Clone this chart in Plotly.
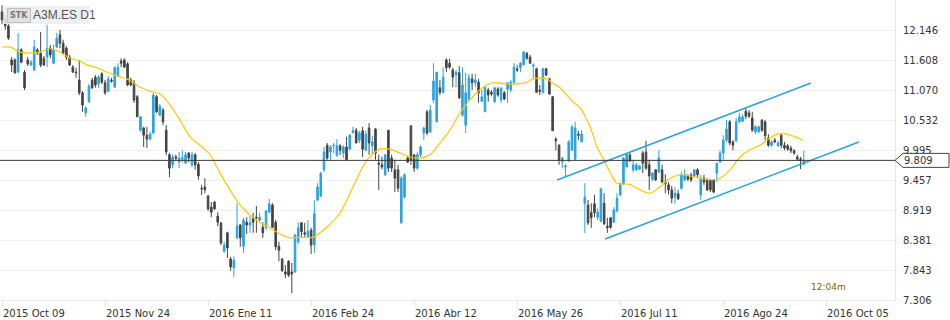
import plotly.graph_objects as go

# ---------------- data ----------------
tick_idx = [0, 32, 64, 96, 128, 160, 192, 224, 256]
tick_text = ["2015 Oct 09", "2015 Nov 24", "2016 Ene 11", "2016 Feb 24", "2016 Abr 12",
             "2016 May 26", "2016 Jul 11", "2016 Ago 24", "2016 Oct 05"]
price_ticks = [7.306, 7.843, 8.381, 8.919, 9.457, 9.995, 10.532, 11.070, 11.608, 12.146]

opens = [
    12.47, 12.33, 12.22, 11.61, 11.61, 11.39, 11.79, 11.39, 11.61, 11.52,
    11.43, 11.79, 11.73, 11.64, 11.66, 11.82, 11.55, 11.84, 12.06, 11.91,
    11.82, 11.66, 11.48, 11.39, 11.25, 11.02, 10.66, 10.86, 11.25, 11.30,
    11.18, 11.36, 11.20, 11.05, 11.25, 11.12, 11.32, 11.59, 11.61, 11.54,
    11.25, 11.20, 10.95, 10.35, 10.39, 10.26, 10.19, 10.30, 10.95, 10.62,
    10.71, 10.35, 9.91, 9.73, 9.87, 9.78, 9.83, 9.76, 9.94, 9.73,
    9.91, 9.74, 9.31, 9.33, 9.17, 8.97, 9.06, 8.81, 8.69, 8.18,
    8.51, 8.04, 7.88, 8.42, 8.65, 8.27, 8.70, 8.65, 8.78, 8.79,
    8.74, 8.61, 8.61, 8.88, 9.01, 8.70, 8.27, 8.04, 7.81, 8.00,
    7.81, 7.81, 8.35, 8.69, 8.51, 8.45, 8.56, 8.29, 9.10, 9.17,
    9.64, 10.08, 9.96, 10.07, 9.90, 10.07, 9.94, 10.05, 10.01, 10.30,
    10.35, 10.17, 10.34, 9.99, 10.39, 10.07, 10.37, 9.76, 9.73, 9.55,
    10.35, 9.85, 9.64, 9.64, 8.69, 9.15, 9.85, 10.43, 9.91, 9.67,
    9.91, 10.30, 10.68, 10.32, 10.89, 10.50, 11.11, 11.02, 11.61, 11.55,
    11.43, 11.34, 11.38, 10.62, 10.44, 10.91, 11.27, 11.20, 11.21, 10.87,
    10.68, 11.07, 11.03, 10.86, 11.09, 10.89, 11.02, 11.09, 11.07, 11.20,
    11.45, 11.47, 11.52, 11.73, 11.66, 11.50, 11.45, 11.07, 11.02, 11.45,
    11.27, 10.95, 10.19, 10.08, 9.78, 9.69, 9.80, 9.99, 9.83, 10.28,
    10.14, 9.04, 9.01, 8.87, 9.03, 8.79, 8.72, 9.04, 8.63, 8.78,
    8.70, 8.90, 9.19, 9.39, 9.69, 9.91, 9.64, 9.64, 9.65, 9.94,
    9.96, 9.73, 9.47, 9.64, 9.60, 9.64, 9.42, 9.37, 9.28, 9.15,
    9.21, 9.31, 9.46, 9.53, 9.55, 9.53, 9.64, 9.19, 9.49, 9.46,
    9.46, 9.46, 9.58, 9.78, 9.94, 10.17, 10.50, 10.14, 10.16, 10.50,
    10.51, 10.69, 10.66, 10.57, 10.32, 10.32, 10.53, 10.50, 10.21, 10.08,
    10.17, 10.07, 10.26, 10.08, 10.07, 10.03, 9.98, 9.87, 9.83, 9.74,
]
highs = [
    12.59, 12.42, 12.25, 11.66, 11.64, 12.09, 11.82, 11.43, 11.66, 11.61,
    11.97, 11.82, 12.11, 11.68, 12.24, 11.88, 11.88, 12.09, 12.15, 11.97,
    11.86, 11.70, 11.52, 11.47, 11.61, 11.05, 10.78, 11.18, 11.29, 11.34,
    11.34, 11.39, 11.25, 11.32, 11.29, 11.50, 11.55, 11.64, 11.64, 11.57,
    11.29, 11.25, 10.98, 10.60, 10.41, 10.41, 10.32, 11.02, 10.98, 10.82,
    10.75, 10.44, 9.94, 9.92, 9.91, 9.96, 9.99, 9.96, 9.96, 9.96,
    9.94, 9.78, 9.37, 9.49, 9.19, 9.06, 9.08, 8.88, 8.70, 8.35,
    8.53, 8.08, 8.09, 9.04, 8.67, 8.78, 8.79, 8.81, 8.87, 8.99,
    8.87, 8.70, 8.92, 9.12, 9.04, 8.74, 8.35, 8.06, 7.93, 8.02,
    7.97, 8.49, 8.70, 8.70, 8.69, 8.74, 8.60, 9.10, 9.40, 9.60,
    10.05, 10.12, 10.08, 10.12, 10.19, 10.10, 10.08, 10.23, 10.28, 10.41,
    10.39, 10.34, 10.41, 10.34, 10.48, 10.25, 10.39, 9.91, 9.87, 9.92,
    10.35, 9.91, 9.82, 9.73, 9.53, 9.58, 9.89, 10.43, 9.91, 9.96,
    10.08, 10.41, 10.71, 10.80, 11.55, 11.39, 11.25, 11.48, 11.64, 11.63,
    11.47, 11.43, 11.50, 11.48, 11.38, 11.36, 11.36, 11.36, 11.27, 11.07,
    11.14, 11.11, 11.07, 11.12, 11.12, 11.11, 11.05, 11.21, 11.25, 11.55,
    11.52, 11.57, 11.77, 11.75, 11.70, 11.55, 11.47, 11.16, 11.47, 11.47,
    11.29, 10.96, 10.23, 10.10, 9.87, 9.74, 10.17, 10.44, 10.50, 10.34,
    10.35, 9.40, 9.10, 9.04, 9.19, 8.95, 9.30, 9.22, 8.78, 8.79,
    8.97, 9.22, 9.40, 9.87, 9.94, 9.94, 9.82, 9.76, 9.73, 9.98,
    10.16, 9.82, 9.60, 9.65, 9.99, 9.73, 9.56, 9.42, 9.35, 9.33,
    9.28, 9.60, 9.65, 9.56, 9.58, 9.65, 9.67, 9.55, 9.55, 9.49,
    9.47, 9.47, 9.76, 9.99, 10.26, 10.53, 10.53, 10.17, 10.57, 10.66,
    10.64, 10.75, 10.71, 10.68, 10.44, 10.43, 10.55, 10.53, 10.28, 10.17,
    10.21, 10.16, 10.30, 10.14, 10.10, 10.07, 10.01, 9.91, 9.87, 9.98,
]
lows = [
    12.25, 12.15, 11.97, 11.39, 11.36, 11.39, 11.55, 11.07, 11.50, 11.50,
    11.41, 11.70, 11.48, 11.50, 11.48, 11.64, 11.54, 11.82, 11.82, 11.70,
    11.61, 11.50, 11.38, 11.29, 10.98, 10.68, 10.59, 10.84, 11.09, 11.11,
    11.11, 11.18, 10.98, 11.03, 11.20, 11.11, 11.32, 11.48, 11.47, 11.14,
    11.14, 10.84, 10.59, 10.32, 10.05, 10.03, 10.17, 10.28, 10.66, 10.60,
    10.44, 9.90, 9.51, 9.67, 9.80, 9.67, 9.78, 9.74, 9.78, 9.69,
    9.64, 9.46, 9.19, 9.22, 8.90, 8.79, 8.92, 8.63, 8.29, 8.15,
    8.06, 7.83, 7.72, 8.40, 8.26, 8.15, 8.49, 8.51, 8.51, 8.51,
    8.72, 8.42, 8.56, 8.87, 8.60, 8.20, 8.00, 7.81, 7.70, 7.72,
    7.43, 7.79, 8.31, 8.44, 8.44, 8.42, 8.13, 8.15, 9.08, 9.15,
    9.60, 9.82, 9.82, 9.94, 9.87, 9.90, 9.85, 9.82, 9.99, 10.30,
    10.12, 10.12, 9.87, 9.98, 9.91, 9.91, 9.82, 9.28, 9.65, 9.53,
    9.60, 9.60, 9.24, 9.24, 8.67, 9.13, 9.76, 9.73, 9.60, 9.64,
    9.87, 10.17, 10.26, 10.30, 10.84, 10.50, 10.98, 11.02, 11.39, 11.45,
    11.12, 11.12, 10.91, 10.60, 10.30, 10.87, 11.07, 11.12, 10.84, 10.86,
    10.68, 10.86, 10.96, 10.84, 10.95, 10.84, 10.89, 10.84, 11.03, 11.20,
    11.39, 11.39, 11.52, 11.61, 11.54, 11.27, 11.02, 10.98, 11.02, 11.32,
    10.98, 10.34, 9.99, 9.73, 9.67, 9.51, 9.78, 9.99, 9.82, 10.17,
    10.14, 8.51, 8.65, 8.60, 8.79, 8.74, 8.70, 8.65, 8.51, 8.58,
    8.69, 8.88, 9.17, 9.37, 9.69, 9.78, 9.60, 9.62, 9.64, 9.58,
    9.64, 9.28, 9.44, 9.44, 9.58, 9.40, 9.22, 9.20, 9.04, 9.03,
    9.10, 9.28, 9.44, 9.44, 9.42, 9.51, 9.49, 9.10, 9.37, 9.26,
    9.24, 9.22, 9.42, 9.76, 9.82, 10.14, 10.08, 9.99, 10.14, 10.48,
    10.50, 10.55, 10.57, 10.32, 10.28, 10.30, 10.32, 10.17, 10.05, 10.05,
    10.12, 10.05, 10.03, 9.99, 9.98, 9.94, 9.91, 9.82, 9.65, 9.74,
]
closes = [
    12.33, 12.22, 12.00, 11.52, 11.38, 11.79, 11.57, 11.11, 11.54, 11.57,
    11.84, 11.73, 11.52, 11.52, 11.82, 11.70, 11.79, 12.00, 11.91, 11.73,
    11.66, 11.52, 11.39, 11.38, 11.02, 10.80, 10.75, 11.14, 11.11, 11.16,
    11.30, 11.21, 11.02, 11.27, 11.23, 11.47, 11.48, 11.55, 11.48, 11.16,
    11.16, 10.89, 10.59, 10.59, 10.26, 10.19, 10.28, 10.98, 10.68, 10.78,
    10.50, 9.96, 9.67, 9.87, 9.85, 9.85, 9.85, 9.91, 9.85, 9.91,
    9.73, 9.53, 9.30, 9.28, 8.94, 8.88, 8.94, 8.70, 8.33, 8.29,
    8.24, 7.90, 8.02, 8.63, 8.42, 8.74, 8.65, 8.69, 8.70, 8.78,
    8.79, 8.51, 8.90, 9.03, 8.61, 8.26, 8.20, 7.83, 7.77, 7.75,
    7.77, 8.47, 8.60, 8.53, 8.49, 8.54, 8.29, 8.85, 9.33, 9.58,
    9.96, 9.85, 10.05, 10.08, 10.07, 9.99, 10.05, 9.82, 10.26, 10.34,
    10.12, 10.30, 10.01, 10.28, 10.12, 10.14, 9.94, 9.74, 9.69, 9.91,
    9.67, 9.67, 9.49, 9.31, 9.49, 9.55, 9.78, 9.82, 9.67, 9.91,
    10.05, 10.39, 10.30, 10.71, 11.23, 11.39, 11.03, 11.30, 11.47, 11.48,
    11.30, 11.39, 10.93, 11.16, 11.02, 11.29, 11.20, 11.25, 11.02, 10.95,
    11.12, 10.98, 11.00, 11.11, 10.98, 11.11, 10.91, 11.20, 11.21, 11.48,
    11.43, 11.55, 11.75, 11.64, 11.55, 11.52, 11.03, 11.05, 11.45, 11.34,
    11.00, 10.34, 10.16, 9.82, 9.85, 9.71, 10.14, 10.41, 10.39, 10.26,
    10.28, 9.15, 8.69, 8.78, 8.87, 8.88, 9.30, 8.67, 8.60, 8.61,
    8.92, 9.13, 9.40, 9.85, 9.92, 9.80, 9.73, 9.73, 9.71, 9.76,
    9.67, 9.53, 9.58, 9.46, 9.85, 9.42, 9.39, 9.28, 9.13, 9.22,
    9.12, 9.55, 9.55, 9.47, 9.46, 9.64, 9.55, 9.47, 9.42, 9.28,
    9.28, 9.24, 9.76, 9.94, 10.17, 10.37, 10.12, 10.08, 10.50, 10.59,
    10.59, 10.60, 10.60, 10.35, 10.41, 10.41, 10.35, 10.25, 10.08, 10.14,
    10.14, 10.12, 10.08, 10.03, 10.01, 9.98, 9.94, 9.83, 9.80, 9.809,
]

# moving average (yellow)
ma_idx = [0, 2.5, 5.6, 8.7, 11.8, 14.9, 18, 21.1, 24.2, 26.4,
          29.5, 32.6, 35.7, 38.8, 40.7, 42.9, 46, 49.1, 52.2, 55.3,
          58.4, 61.5, 64.6, 67.7, 70.8, 73.9, 77, 80.1, 83.2, 86.3,
          89.4, 92.5, 96.6, 98.8, 100.9, 105, 109, 113.4, 117.4, 120.5,
          123.6, 126.7, 129.8, 132.9, 136, 139.1, 142.2, 145.3, 148.4, 150.6,
          152.5, 156.8, 159.9, 163, 164.9, 169.3, 170.8, 173.3, 177.3, 179.5,
          182.6, 184.8, 186.6, 188.8, 191, 195, 197.2, 199.7, 201.2, 204.3,
          207.5, 210.6, 213.7, 216.8, 219.9, 223, 226.1, 229.2, 232.3, 235.4,
          238.5, 240.7, 243.8, 246.3, 248.8]
ma_val = [11.84, 11.84, 11.75, 11.73, 11.75, 11.81, 11.75, 11.64, 11.59, 11.52,
          11.47, 11.39, 11.32, 11.27, 11.20, 11.12, 11.05, 11.00, 10.80, 10.53,
          10.23, 10.08, 9.91, 9.58, 9.28, 9.01, 8.83, 8.70, 8.60, 8.49,
          8.42, 8.43, 8.43, 8.51, 8.61, 8.87, 9.33, 9.82, 10.01, 10.01,
          9.94, 9.87, 9.85, 9.91, 10.12, 10.35, 10.66, 10.89, 11.07, 11.16,
          11.20, 11.18, 11.18, 11.21, 11.27, 11.27, 11.20, 11.11, 10.86, 10.75,
          10.41, 10.05, 9.85, 9.60, 9.40, 9.38, 9.31, 9.24, 9.22, 9.33,
          9.49, 9.55, 9.53, 9.49, 9.46, 9.49, 9.64, 9.87, 10.00, 10.08,
          10.21, 10.28, 10.28, 10.23, 10.17]

# trend channel drawn on the chart
chan_up_idx = [172.4, 251.2]
chan_up_val = [9.457, 11.196]
chan_lo_idx = [187.3, 266.1]
chan_lo_val = [8.400, 10.138]

symbol_label = "A3M.ES D1"
timer_label = "12:04m"

# ---------------- figure ----------------
BLUE = "#29a3e0"
DARK = "#444444"
W, H = 950, 320
ML, MR, MT, MB = 0, 55, 0, 20
PW, PH = W - ML - MR, H - MT - MB
Y0, Y1 = 7.306, 12.684
x_idx = list(range(len(opens)))
last = closes[-1]

fig = go.Figure()
fig.add_trace(go.Scatter(x=ma_idx, y=ma_val, mode="lines", line=dict(color="#ffc800", width=1.2, shape="spline"),
                         hoverinfo="skip", showlegend=False))
fig.add_trace(go.Candlestick(
    x=x_idx, open=opens, high=highs, low=lows, close=closes,
    increasing=dict(line=dict(color=BLUE, width=1), fillcolor=BLUE),
    decreasing=dict(line=dict(color=DARK, width=1), fillcolor=DARK),
    whiskerwidth=0, showlegend=False))
fig.add_trace(go.Scatter(x=chan_up_idx, y=chan_up_val, mode="lines", line=dict(color=BLUE, width=1.5),
                         hoverinfo="skip", showlegend=False))
fig.add_trace(go.Scatter(x=chan_lo_idx, y=chan_lo_val, mode="lines", line=dict(color=BLUE, width=1.5),
                         hoverinfo="skip", showlegend=False))

# last-price horizontal line
fig.add_shape(type="line", xref="paper", x0=0, x1=1, yref="y", y0=last, y1=last,
              line=dict(color="#3a3a3a", width=1), layer="above")

# price tag on the right axis
yp = (last - Y0) / (Y1 - Y0)
hh = 7 / PH
fig.add_shape(type="path", xref="paper", yref="paper",
              path=f"M 1,{yp} L {1 + 8 / PW},{yp + hh} L {1 + 54 / PW},{yp + hh} "
                   f"L {1 + 54 / PW},{yp - hh} L {1 + 8 / PW},{yp - hh} Z",
              fillcolor="white", line=dict(color="#444444", width=1), layer="above")
fig.add_annotation(xref="paper", x=1 + 7 / PW, yref="y", y=last, text=f"{last:.3f}",
                   showarrow=False, xanchor="left", yanchor="middle",
                   font=dict(family="DejaVu Sans", size=10, color="#333333"))

# x tick labels (left aligned at ticks)
for ti, tt in zip(tick_idx, tick_text):
    fig.add_annotation(x=ti, xref="x", y=-6 / PH, yref="paper", text=tt, showarrow=False,
                       xanchor="left", yanchor="top", xshift=-1,
                       font=dict(family="DejaVu Sans", size=10, color="#333333"))

# symbol label box
fig.add_shape(type="rect", xref="paper", yref="paper", x0=4 / PW, x1=90 / PW, y0=1 - 24 / PH, y1=1 - 6 / PH,
              fillcolor="rgba(236,236,236,0.85)", line=dict(width=0), layer="above")
fig.add_annotation(xref="paper", x=7 / PW, yref="paper", y=1 - 15.5 / PH, text="<b>STK</b>", showarrow=False,
                   xanchor="left", yanchor="middle", bgcolor="#e0e0e0", bordercolor="#c0c0c0", borderwidth=1,
                   borderpad=2, font=dict(family="DejaVu Sans", size=8, color="#777777"))
fig.add_annotation(xref="paper", x=31 / PW, yref="paper", y=1 - 15 / PH, text=symbol_label, showarrow=False,
                   xanchor="left", yanchor="middle",
                   font=dict(family="Liberation Sans", size=12, color="#555555"))

# countdown label
fig.add_annotation(xref="paper", x=809 / PW, yref="paper", y=1 - 287 / PH, text=timer_label, showarrow=False,
                   xanchor="left", yanchor="middle",
                   font=dict(family="DejaVu Sans", size=9, color="#7a6508"))

fig.update_layout(
    width=W, height=H, margin=dict(l=ML, r=MR, t=MT, b=MB),
    paper_bgcolor="white", plot_bgcolor="white", showlegend=False,
    xaxis=dict(range=[(0 - 2) / 3.22, (PW - 2) / 3.22], rangeslider=dict(visible=False),
               showgrid=False, zeroline=False, tickvals=tick_idx, showticklabels=False,
               ticks="outside", ticklen=5, tickcolor="#e2e2e2", showline=True, linecolor="#ebebeb"),
    yaxis=dict(side="right", range=[Y0, Y1], tickvals=price_ticks,
               ticktext=[f"{v:.3f}" for v in price_ticks],
               showgrid=True, gridcolor="#f0f0f0", zeroline=False, showline=True, linecolor="#e8e8e8",
               ticks="", ticklabelstandoff=5,
               tickfont=dict(family="DejaVu Sans", size=10, color="#333333")),
)

fig.write_html("out.html")
